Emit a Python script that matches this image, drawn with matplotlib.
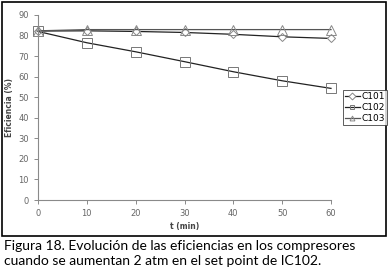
import matplotlib.pyplot as plt
from matplotlib.patches import Rectangle

# data
t = [0, 10, 20, 30, 40, 50, 60]
c101 = [82.2, 82.3, 82.0, 81.5, 80.6, 79.4, 78.6]
c102 = [82.0, 76.5, 72.1, 67.3, 62.4, 58.0, 54.3]
c103 = [82.3, 82.9, 82.9, 82.9, 82.9, 82.9, 82.9]
names = ["C101", "C102", "C103"]
caption = ("Figura 18. Evolución de las eficiencias en los compresores\n"
           "cuando se aumentan 2 atm en el set point de IC102.")

fig = plt.figure(figsize=(3.9, 2.78), dpi=100)
W, H = 390, 278
ax = fig.add_axes([38 / W, 1 - 200 / H, (331 - 38) / W, (200 - 15) / H])

gray = "#8a8a8a"
ax.plot(t, c101, color="#222222", lw=0.9, marker="D", ms=4.5, mfc="white",
        mec="#888888", mew=0.7, label=names[0], clip_on=False)
ax.plot(t, c102, color="#222222", lw=0.9, marker="s", ms=7, mfc="none",
        mec="#777777", mew=0.7, label=names[1], clip_on=False)
ax.plot(t, c103, color="#555555", lw=0.9, marker="^", ms=7, mfc="none",
        mec="#888888", mew=0.7, label=names[2], clip_on=False)

ax.set_xlim(0, 60)
ax.set_ylim(0, 90)
ax.set_xticks(range(0, 61, 10))
ax.set_yticks(range(0, 91, 10))
for s in ["top", "right"]:
    ax.spines[s].set_visible(False)
for s in ["left", "bottom"]:
    ax.spines[s].set_color(gray)
    ax.spines[s].set_linewidth(0.8)
ax.tick_params(colors=gray, labelcolor="#666666", labelsize=6, length=3, width=0.7)
ax.set_xlabel("t (min)", fontsize=5.5, fontweight="bold", color="#444444", labelpad=3)
ax.set_ylabel("Eficiencia (%)", fontsize=5.5, fontweight="bold", color="#444444", labelpad=3)

leg = fig.legend(loc="upper left", bbox_to_anchor=(343 / W, 1 - 90 / H),
                 fontsize=6.5, frameon=True, fancybox=False, edgecolor="#333333",
                 handlelength=1.7, borderpad=0.2, labelspacing=0.25,
                 handletextpad=0.2, borderaxespad=0)
leg.get_frame().set_linewidth(0.7)
for h in leg.legend_handles:
    h.set_markersize(3.5)

# outer frame of the chart
fig.patches.append(Rectangle((2 / W, 1 - 236 / H), 384 / W, 234 / H,
                             transform=fig.transFigure, fill=False,
                             edgecolor="black", lw=1.2))

fig.text(4 / W, 1 - 240 / H, caption, ha="left", va="top", fontsize=10,
         family="Lato", linespacing=1.3)

fig.savefig("out.png", dpi=100)
